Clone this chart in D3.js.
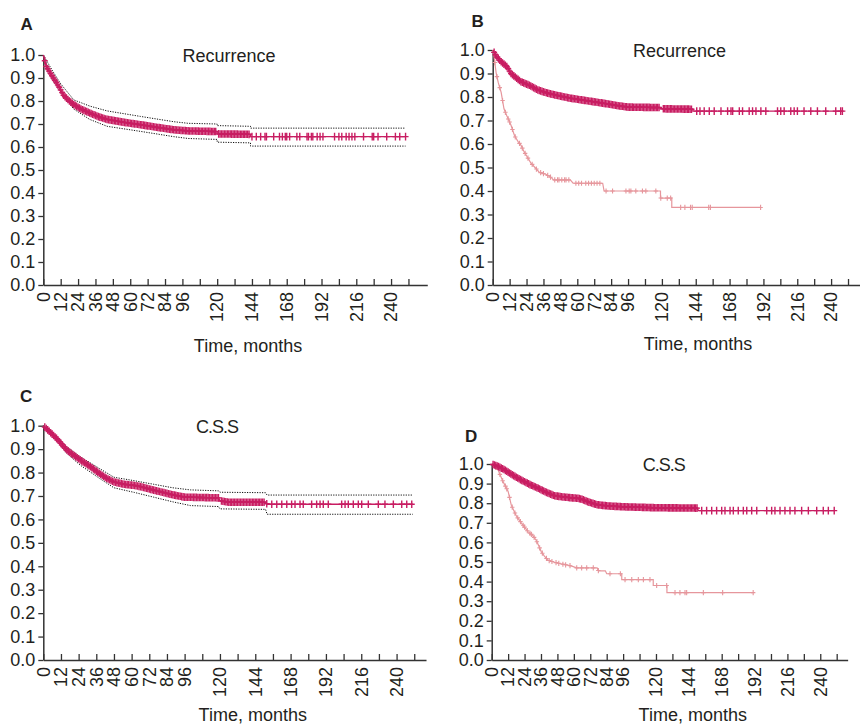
<!DOCTYPE html>
<html><head><meta charset="utf-8">
<script src="https://cdn.jsdelivr.net/npm/d3@7"></script>
<style>
body{margin:0;background:#fff}
text{font-family:"Liberation Sans",Arial,sans-serif;fill:#231f20}
</style>
</head><body>
<svg id="chart" width="860" height="725"></svg>
<script>
// ---------- tick data ----------
const xTicks = [0,12,24,36,48,60,72,84,96,108,120,132,144,156,168,180,192,204,216,228,240,252];
const xTickLabels = [0,12,24,36,48,60,72,84,96,120,144,168,192,216,240];
const yTicks = [0,0.1,0.2,0.3,0.4,0.5,0.6,0.7,0.8,0.9,1.0];

// ---------- Panel A: Recurrence (overall) ----------
const A_time = [0,2,5,8,11,14,18,21,26,32,38,44,55,67,78,90,100,120,120,143,143,250];
const A_surv = [1.0,0.95,0.92,0.89,0.86,0.825,0.80,0.785,0.765,0.748,0.732,0.72,0.708,0.697,0.686,0.675,0.67,0.667,0.657,0.655,0.645,0.645];
const A_ciTime = [0,6,12,21,32,44,67,90,100,120,120,143,143,250];
const A_upper = [1.0,0.935,0.875,0.805,0.778,0.757,0.733,0.71,0.703,0.70,0.693,0.69,0.682,0.682];
const A_lower = [1.0,0.895,0.84,0.765,0.72,0.69,0.668,0.645,0.637,0.633,0.621,0.618,0.604,0.604];
const A_censor = [1,2,3,4,5,6,7,8,9,10,11,12,13,14,15,16,17,18,19,20,21,22,23,24,25,26,27,28,29,30,31,32,33,34,35,36,37,38,39,40,41,42,43,44,45,46,47,48,49,50,51,52,53,54,55,56,57,58,59,60,61,62,63,64,65,66,67,68,69,70,71,72,73,74,75,76,77,78,79,80,81,82,83,84,85,86,87,88,89,90,91,92,93,94,95,96,97,98,99,100,101,102,103,104,105,106,107,108,109,110,111,112,113,114,115,116,117,118,119,121,122,123,124,125,126,127,128,129,130,131,132,133,134,135,136,137,138,139,140,141,142,144,147,150,153,154,159,163,165,167,168,170,175,177,182,183,185,186,189,191,193,201,204,206,209,211,213,215,221,227,228,231,237,243,246,250];

// ---------- Panel B: Recurrence by group ----------
const B1_time = [0,3,6,10,13,17,20,26,32,38,44,55,67,79,90,96,119,119,142,142,248];
const B1_surv = [1.0,0.97,0.95,0.93,0.90,0.88,0.865,0.85,0.83,0.818,0.809,0.795,0.784,0.773,0.762,0.757,0.755,0.75,0.748,0.74,0.74];
const B1_censor = [1,2,3,4,5,6,7,8,9,10,11,12,13,14,15,16,17,18,19,20,21,22,23,24,25,26,27,28,29,30,31,32,33,34,35,36,37,38,39,40,41,42,43,44,45,46,47,48,49,50,51,52,53,54,55,56,57,58,59,60,61,62,63,64,65,66,67,68,69,70,71,72,73,74,75,76,77,78,79,80,81,82,83,84,85,86,87,88,89,90,91,92,93,94,95,96,97,98,99,100,101,102,103,104,105,106,107,108,109,110,111,112,113,114,115,116,117,118,121,122,123,124,125,126,127,128,129,130,131,132,133,134,135,136,137,138,139,140,141,144.7,147,150,153.6,157.1,161.9,166.6,169,170.2,174.9,177.2,181.9,184.3,186.7,190.2,193.7,202,204.3,206.7,211.4,213.8,216.1,220.8,225.6,230.3,236.2,243.3,246.8,248];
const B2_time = [0,1,2.5,4,6,8,10,13,15.5,18,20,22,24,27,30,33,38,42,43,55,57,78,79,119,119,127,127,190];
const B2_surv = [1.0,0.97,0.90,0.86,0.82,0.75,0.72,0.68,0.635,0.61,0.595,0.57,0.55,0.52,0.50,0.48,0.47,0.455,0.447,0.447,0.433,0.433,0.40,0.40,0.37,0.37,0.33,0.33];
const B2_censor = [1.5,3,5,7,9,11,12,14,16,19,21,23,25,28,31,34,36,39,41,44,46,47,49,51,52,54,59,61,63,66,68,70,72,74,76,80.4,85,94.5,96.8,98,101.5,106.2,108.6,115.7,119.2,123.8,126.2,133.3,136.3,140.3,141.5,153.2,154.4,190];

// ---------- Panel C: C.S.S (overall) ----------
const C_time = [0,5,9,16,25,32,38,43,48,55,62,66,75,88,96,119,120,126,151,152,251];
const C_surv = [1.0,0.97,0.946,0.896,0.854,0.825,0.797,0.776,0.76,0.75,0.745,0.74,0.725,0.705,0.695,0.692,0.68,0.673,0.673,0.665,0.665];
const C_ciTime = [0,9,16,25,38,48,62,75,88,100,119,120,151,152,251];
const C_upper = [1.0,0.955,0.91,0.868,0.818,0.78,0.765,0.75,0.735,0.726,0.722,0.716,0.714,0.704,0.704];
const C_lower = [1.0,0.935,0.882,0.832,0.776,0.735,0.715,0.695,0.675,0.659,0.655,0.645,0.643,0.622,0.622];
const C_censor = [1,2,3,4,5,6,7,8,9,10,11,12,13,14,15,16,17,18,19,20,21,22,23,24,25,26,27,28,29,30,31,32,33,34,35,36,37,38,39,40,41,42,43,44,45,46,47,48,49,50,51,52,53,54,55,56,57,58,59,60,61,62,63,64,65,66,67,68,69,70,71,72,73,74,75,76,77,78,79,80,81,82,83,84,85,86,87,88,89,90,91,92,93,94,95,96,97,98,99,100,101,102,103,104,105,106,107,108,109,110,111,112,113,114,115,116,117,118,119,121,122,123,124,125,126,127,128,129,130,131,132,133,134,135,136,137,138,139,140,141,142,143,144,145,146,147,148,149,150,151.8,155.2,158.6,162,165.4,168.7,171,174.4,176.6,182.3,185.7,188,190.2,193.6,202.7,205,207.2,210.6,214,216.3,220.8,227.6,232.1,237.8,243.5,246.9,250.3];

// ---------- Panel D: C.S.S by group ----------
const D1_time = [0,4,9.5,15,21.6,28,34,40,46,52,58,63,66,70,77,85,95,119,150,151,250];
const D1_surv = [1.0,0.99,0.97,0.945,0.918,0.895,0.876,0.855,0.838,0.832,0.828,0.825,0.82,0.808,0.792,0.786,0.782,0.777,0.775,0.762,0.762];
const D1_censor = [1,2,3,4,5,6,7,8,9,10,11,12,13,14,15,16,17,18,19,20,21,22,23,24,25,26,27,28,29,30,31,32,33,34,35,36,37,38,39,40,41,42,43,44,45,46,47,48,49,50,51,52,53,54,55,56,57,58,59,60,61,62,63,64,65,66,67,68,69,70,71,72,73,74,75,76,77,78,79,80,81,82,83,84,85,86,87,88,89,90,91,92,93,94,95,96,97,98,99,100,101,102,103,104,105,106,107,108,109,110,111,112,113,114,115,116,117,118,119,120,121,122,123,124,125,126,127,128,129,130,131,132,133,134,135,136,137,138,139,140,141,142,143,144,145,146,147,148,149,150,153.4,157,160.7,164.3,168,170.4,174.1,176.5,180.1,183.8,186.3,189.9,193.6,200.9,204.5,206.9,210.6,214.2,217.9,221.5,226.4,231.3,237.4,242.2,245.9,250.2];
const D2_time = [0,2,4.6,8.3,12,14.3,18,21.6,26.5,30,32.6,34.5,36.2,38.5,41,45,51,58,62,77,78,83,84,95,95,118,118,128,128,191];
const D2_surv = [1.0,0.99,0.97,0.91,0.86,0.79,0.735,0.70,0.655,0.635,0.61,0.58,0.553,0.53,0.51,0.50,0.49,0.48,0.47,0.47,0.455,0.455,0.44,0.44,0.41,0.41,0.38,0.38,0.344,0.344];
const D2_censor = [3,6,8,10,11,13,15,17,19,21,23,24,26,28,29,31,33,35,37,40,42,44,47,49,52,54,57.2,62.1,65.7,69.4,74.2,77.9,86.4,94,97.4,102.3,107.1,110.8,115.6,120.5,127.8,133.9,137.5,141.2,142.4,154.6,168.7,191];

// ---------- styles ----------
const MAIN = "#c81d62", LIGHT = "#e6969c";

const panels = [
  {letter:"A", letterXY:[20.5,30], title:"Recurrence", titleXY:[229,61.5], xlabXY:[248,351.5],
   left:43.3, ppm:1.449, xmax:265, top:55, bottom:285,
   ci:{t:A_ciTime, up:A_upper, lo:A_lower},
   series:[{t:A_time, s:A_surv, c:A_censor, main:true}]},
  {letter:"B", letterXY:[471.5,26.5], title:"Recurrence", titleXY:[679.5,57.3], xlabXY:[698,349.5],
   left:492.7, ppm:1.41, xmax:261, top:50, bottom:285,
   series:[{t:B2_time, s:B2_surv, c:B2_censor, main:false},{t:B1_time, s:B1_surv, c:B1_censor, main:true}]},
  {letter:"C", letterXY:[20,401.5], title:"C.S.S", titleXY:[217,432.7], xlabXY:[252.8,720.5],
   left:43.3, ppm:1.472, xmax:260, top:425.7, bottom:660,
   ci:{t:C_ciTime, up:C_upper, lo:C_lower},
   series:[{t:C_time, s:C_surv, c:C_censor, main:true}]},
  {letter:"D", letterXY:[465,441.5], title:"C.S.S", titleXY:[663.7,470.7], xlabXY:[692.8,720.5],
   left:491.7, ppm:1.369, xmax:260, top:464, bottom:660,
   series:[{t:D2_time, s:D2_surv, c:D2_censor, main:false},{t:D1_time, s:D1_surv, c:D1_censor, main:true}]}
];

const svg = d3.select("#chart");

function valueAt(times, surv, t){
  const i = d3.bisectRight(times, t);
  if (i <= 0) return surv[0];
  if (i >= times.length) return surv[surv.length-1];
  const t0 = times[i-1], t1 = times[i];
  const f = t1 === t0 ? 1 : (t - t0) / (t1 - t0);
  return surv[i-1] + f * (surv[i] - surv[i-1]);
}

panels.forEach(p => {
  const g = svg.append("g");
  const x = d3.scaleLinear().domain([0, p.xmax]).range([p.left, p.left + p.xmax*p.ppm]);
  const y = d3.scaleLinear().domain([0, 1]).range([p.bottom, p.top]);

  // y axis
  const ya = d3.axisLeft(y).tickValues(yTicks).tickFormat(d3.format(".1f")).tickSizeInner(5).tickSizeOuter(0).tickPadding(3);
  const yg = g.append("g").attr("transform", `translate(${p.left},0)`).call(ya);
  yg.selectAll("text").style("font-size","18px").style("font-family",'"Liberation Sans",Arial,sans-serif').attr("fill","#231f20");
  yg.selectAll("line").attr("stroke","#333").attr("stroke-width",1.3);
  yg.select(".domain").attr("stroke","#333").attr("stroke-width",1.5);

  // x axis
  const xa = d3.axisBottom(x).tickValues(xTicks).tickFormat("").tickSizeInner(-6).tickSizeOuter(0);
  const xg = g.append("g").attr("transform", `translate(0,${p.bottom})`).call(xa);
  xg.selectAll("line").attr("stroke","#333").attr("stroke-width",1.3);
  xg.select(".domain").attr("stroke","#333").attr("stroke-width",1.5);
  xg.selectAll("text").remove();
  g.selectAll(".xl").data(xTickLabels).enter().append("text")
    .attr("transform", d => `translate(${x(d)},${p.bottom+7}) rotate(-90)`)
    .attr("text-anchor","end").attr("dy","0.35em")
    .style("font-size","18px").text(d => d);

  // labels
  g.append("text").attr("x",p.letterXY[0]).attr("y",p.letterXY[1]).style("font-size","17px").style("font-weight","bold").text(p.letter);
  g.append("text").attr("x",p.titleXY[0]).attr("y",p.titleXY[1]).attr("text-anchor","middle").style("font-size","18px")
    .style("letter-spacing", p.title==="C.S.S" ? "-1px" : "0px").text(p.title);
  g.append("text").attr("x",p.xlabXY[0]).attr("y",p.xlabXY[1]).attr("text-anchor","middle").style("font-size","18px").text("Time, months");

  const line = d3.line().x(d => x(d[0])).y(d => y(d[1]));

  // confidence interval
  if (p.ci) {
    [p.ci.up, p.ci.lo].forEach(arr => {
      g.append("path").datum(p.ci.t.map((t,i)=>[t,arr[i]]))
        .attr("d", line).attr("fill","none").attr("stroke","#111")
        .attr("stroke-width",1).attr("stroke-dasharray","1.2,1.3");
    });
  }

  p.series.forEach(s => {
    const col = s.main ? MAIN : LIGHT;
    g.append("path").datum(s.t.map((t,i)=>[t,s.s[i]]))
      .attr("d", line).attr("fill","none").attr("stroke",col).attr("stroke-width", s.main ? 1.4 : 1.2);
    const hw = s.main ? 3 : 2.2, hh = s.main ? 3.8 : 2.6;
    g.append("g").selectAll("path").data(s.c).enter().append("path")
      .attr("d", t => {
        const cx = x(t), cy = y(valueAt(s.t, s.s, t));
        return `M${cx-hw},${cy}H${cx+hw}M${cx},${cy-hh}V${cy+hh}`;
      })
      .attr("stroke", col).attr("stroke-width", s.main ? 1.4 : 1.1).attr("fill","none");
  });
});
</script>
</body></html>
